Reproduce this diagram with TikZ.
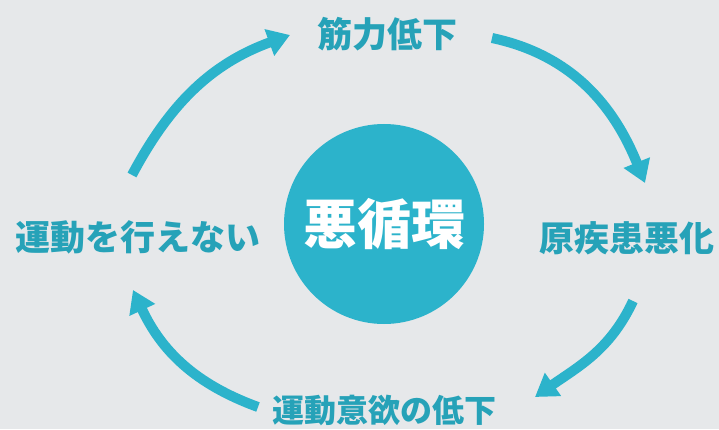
\documentclass[tikz,border=0pt]{standalone}
\usepackage{fontspec}
\newfontfamily\jp{Noto Sans CJK JP}
\usetikzlibrary{arrows.meta}
\definecolor{bg}{RGB}{230,232,234}
\definecolor{teal1}{RGB}{44,179,203}
\definecolor{tealtxt}{RGB}{38,162,184}
\begin{document}
\begin{tikzpicture}[x=1pt,y=1pt,
  lbl/.style={font=\jp\bfseries\fontsize{35}{35}\selectfont, text=tealtxt, inner sep=0pt},
  cyc/.style={draw=teal1, line width=10pt, -{Triangle[width=27pt,length=22pt]}}]
  \fill[bg] (0,0) rectangle (719,429);
  \useasboundingbox (0,0) rectangle (719,429);
  \node[circle, fill=teal1, minimum size=200pt, inner sep=0pt,
        font=\jp\bfseries\fontsize{54}{54}\selectfont, text=white] (c) at (384,205) {悪循環};
  \node[lbl] (t) at (387,395) {筋力低下};
  \node[lbl] (r) at (627,191) {原疾患悪化};
  \node[lbl, font=\jp\bfseries\fontsize{32}{32}\selectfont] (b) at (384,19) {運動意欲の低下};
  \node[lbl] (l) at (138,192) {運動を行えない};
  \coordinate (a1s) at (132,254);
  \coordinate (a1e) at (290,394);
  \coordinate (a2s) at (492,391);
  \coordinate (a2e) at (645,246);
  \coordinate (a3s) at (633,128);
  \coordinate (a3e) at (535,32);
  \coordinate (a4s) at (258,22);
  \coordinate (a4e) at (133,139);
  \draw[cyc] (a1s) to[out=62,in=200] (a1e);
  \draw[cyc] (a2s) to[out=-12,in=112] (a2e);
  \draw[cyc] (a3s) to[out=245,in=35] (a3e);
  \draw[cyc] (a4s) to[out=160,in=-65] (a4e);
\end{tikzpicture}
\end{document}
